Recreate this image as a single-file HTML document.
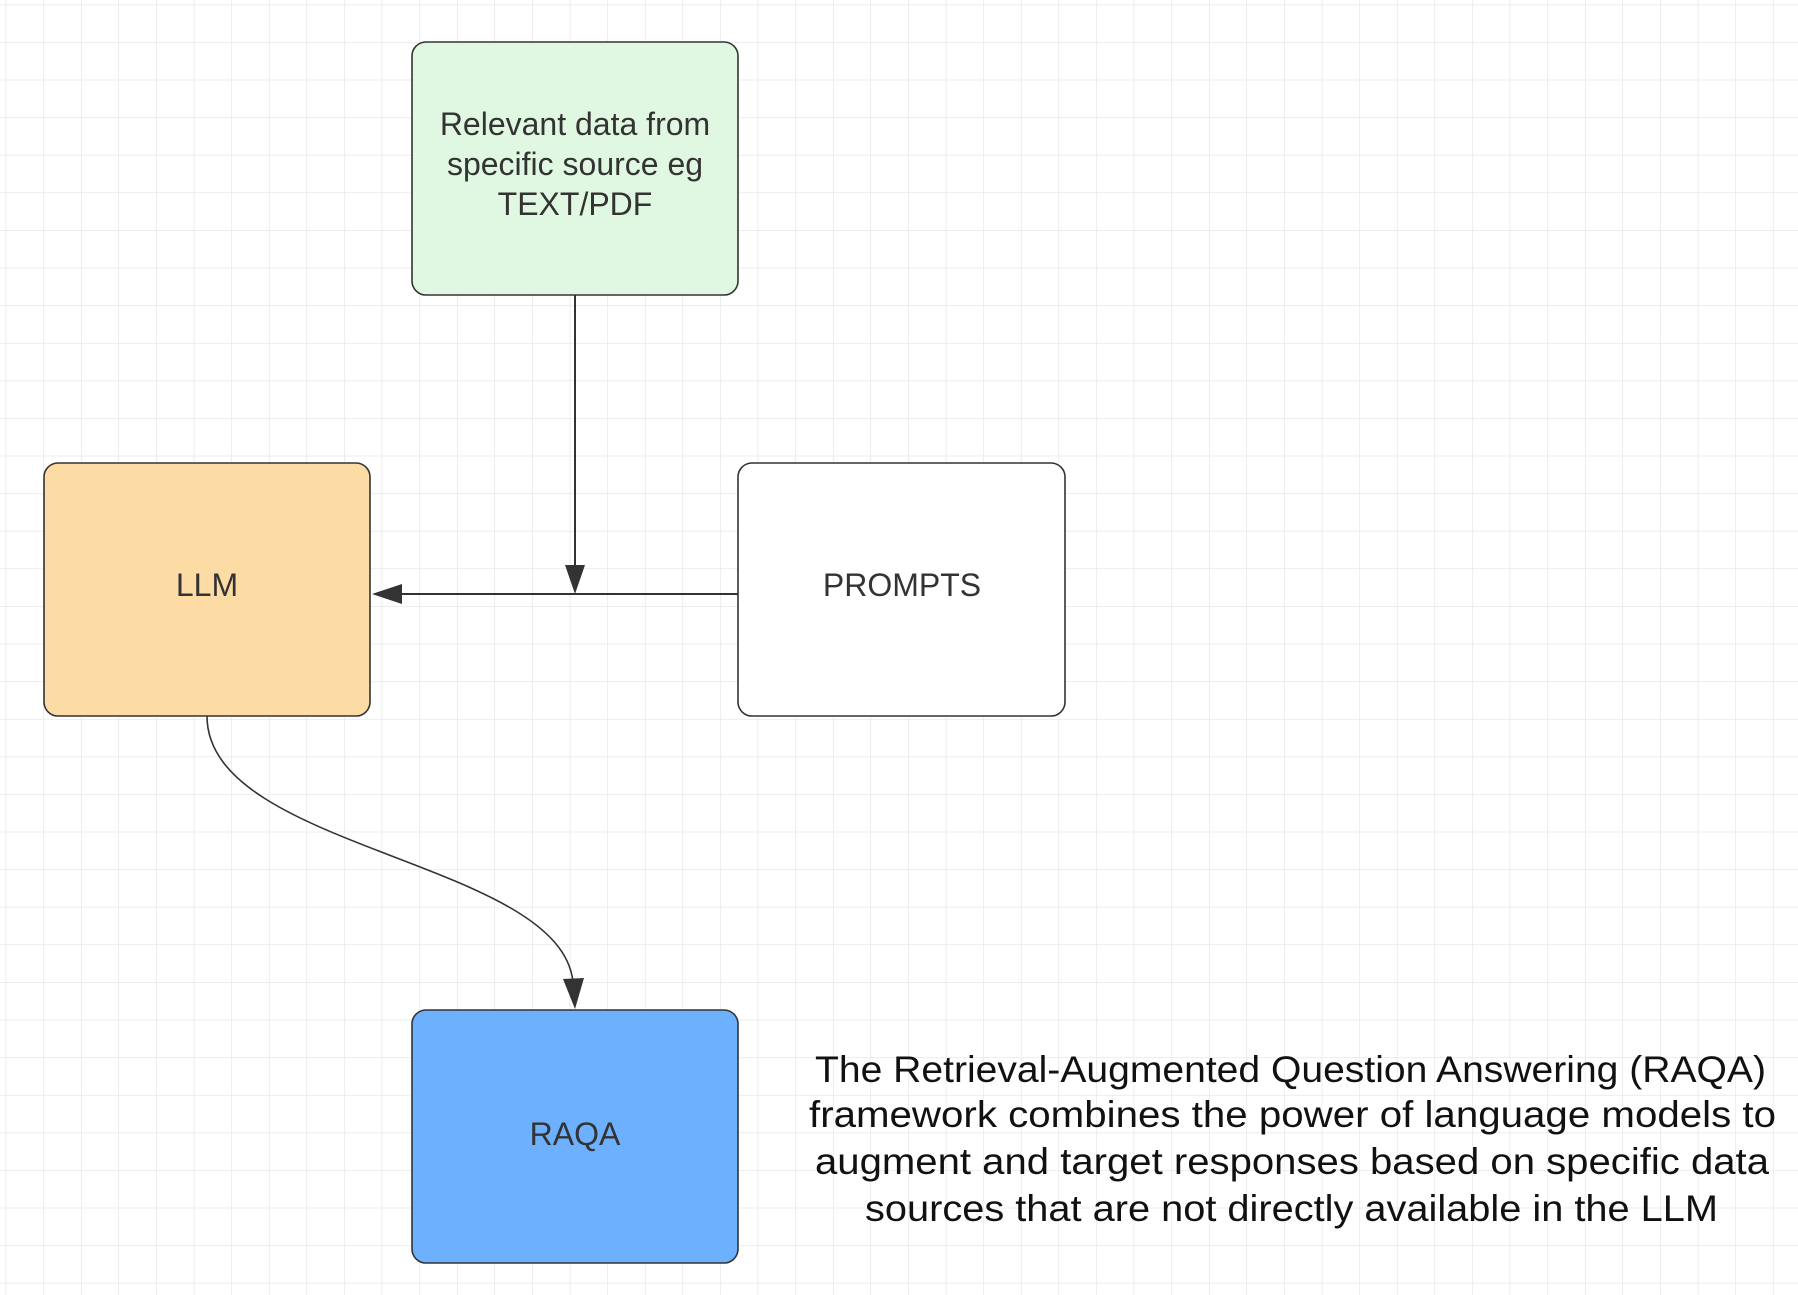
<!DOCTYPE html>
<html><head><meta charset="utf-8"><style>
html,body{margin:0;padding:0;background:#fff;}
svg{display:block;}
</style></head><body>
<svg width="1798" height="1295" viewBox="0 0 1798 1295" xmlns="http://www.w3.org/2000/svg">
<defs>
<pattern id="minor" x="5.7" y="4.5" width="37.6" height="37.6" patternUnits="userSpaceOnUse">
<path d="M0 0V37.6M0 0H37.6" stroke="#e2e2e2" stroke-width="1.2" fill="none"/>
</pattern>
</defs>
<rect width="1798" height="1295" fill="#fff"/>
<rect width="1798" height="1295" fill="url(#minor)"/>
<g stroke="#333" stroke-width="1.6">
<rect x="412" y="42" width="326" height="253" rx="14" fill="#e0f8e1"/>
<rect x="44" y="463" width="326" height="253" rx="14" fill="#fddba5"/>
<rect x="738" y="463" width="327" height="253" rx="14" fill="#fff"/>
<rect x="412" y="1010" width="326" height="253" rx="14" fill="#6cb0fe"/>
</g>
<g stroke="#333" stroke-width="2" fill="none">
<line x1="575" y1="295" x2="575" y2="566"/>
<line x1="738" y1="594" x2="398" y2="594"/>
<path d="M207 716 C207 850 560 860 573 982" stroke-width="1.6"/>
</g>
<g fill="#333">
<polygon points="575,594 565,565 585,565"/>
<polygon points="372,594 402,584 402,604"/>
<polygon points="575,1009 563,979 584,978"/>
</g>
<g font-family="Liberation Sans, sans-serif" font-size="32" fill="#333" text-anchor="middle">
<text x="575" y="135">Relevant data from</text>
<text x="575" y="175">specific source eg</text>
<text x="575" y="215">TEXT/PDF</text>
<text x="207" y="596">LLM</text>
<text x="902" y="596">PROMPTS</text>
<text x="575" y="1145">RAQA</text>
</g>
<g font-family="Liberation Sans, sans-serif" font-size="37" fill="#111">
<text x="815" y="1082" textLength="951" lengthAdjust="spacingAndGlyphs">The Retrieval-Augmented Question Answering (RAQA)</text>
<text x="809" y="1127" textLength="967" lengthAdjust="spacingAndGlyphs">framework combines the power of language models to</text>
<text x="815" y="1174" textLength="954" lengthAdjust="spacingAndGlyphs">augment and target responses based on specific data</text>
<text x="865" y="1221" textLength="853" lengthAdjust="spacingAndGlyphs">sources that are not directly available in the LLM</text>
</g>
</svg>
</body></html>
